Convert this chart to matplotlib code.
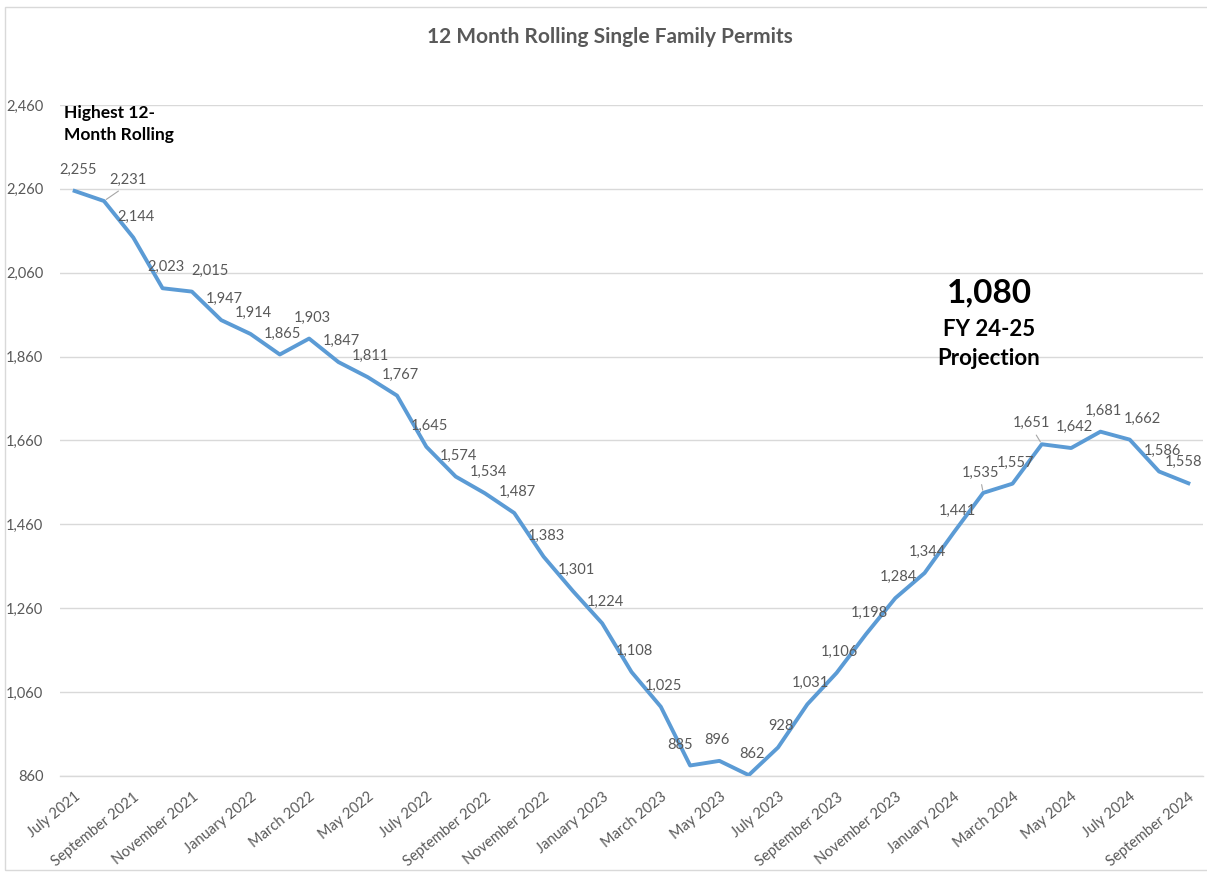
import matplotlib.pyplot as plt
from matplotlib.patches import Rectangle

months = ["January", "February", "March", "April", "May", "June", "July",
          "August", "September", "October", "November", "December"]
labels = []
for k in range(39):
    m = (6 + k) % 12
    y = 2021 + (6 + k) // 12
    labels.append(months[m] + " " + str(y))

permits = [2255, 2231, 2144, 2023, 2015, 1947, 1914, 1865, 1903, 1847, 1811, 1767,
           1645, 1574, 1534, 1487, 1383, 1301, 1224, 1108, 1025, 885, 896, 862,
           928, 1031, 1106, 1198, 1284, 1344, 1441, 1535, 1557, 1651, 1642, 1681,
           1662, 1586, 1558]

# label offsets in pixels (default is just above the point)
special = {1: (24, 21), 4: (18, 21), 21: (-10, 20), 22: (-2, 21), 31: (-3, 20),
           33: (-10, 21), 36: (13, 21), 38: (-5, 21)}
leaders = [1, 31, 33]

plt.rcParams['font.family'] = ['Lato', 'DejaVu Sans']
grey = '#595959'

fig = plt.figure(figsize=(12.07, 8.77), dpi=100)
ax = fig.add_axes([0.0497, 0.1152, 0.9470, 0.7651])

x = list(range(len(permits)))
ax.plot(x, permits, color='#5b9bd5', lw=2.8, solid_joinstyle='round', zorder=3)

for i, v in enumerate(permits):
    dx, dy = special.get(i, (3, 21))
    ax.annotate(f"{v:,}", (i, v), xytext=(dx, dy), textcoords='offset pixels',
                ha='center', va='center', fontsize=10.5, color=grey, zorder=4)
    if i in leaders:
        ax.annotate("", (i, v), xytext=(dx * 0.7, dy * 0.55), textcoords='offset pixels',
                    arrowprops=dict(arrowstyle='-', color='#a6a6a6', lw=0.8))

ax.set_xlim(-0.5, 38.5)
ax.set_ylim(860, 2460)
ax.set_yticks(range(860, 2461, 200))
ax.set_yticklabels([f"{t:,}" for t in range(860, 2461, 200)], fontsize=10.5, color=grey)
ax.set_xticks(x[::2])
ax.set_xticklabels(labels[::2], rotation=39, ha='right', va='top',
                   rotation_mode='anchor', fontsize=10.5, color=grey)
ax.tick_params(length=0, pad=10)
ax.tick_params(axis='y', pad=12)
ax.grid(axis='y', color='#d9d9d9', lw=1)
ax.axhline(860, color='#d9d9d9', lw=1, clip_on=False, zorder=1)
ax.set_axisbelow(True)
for s in ax.spines.values():
    s.set_visible(False)

fig.text(0.505, 0.958, "12 Month Rolling Single Family Permits", ha='center', va='center',
         fontsize=15, fontweight='bold', color=grey)
ax.text(-0.35, 2415, "Highest 12-\nMonth Rolling", ha='left', va='center',
        fontsize=12.5, fontweight='bold', color='black', linespacing=1.5)
ax.text(31.2, 2012, "1,080", ha='center', va='center', fontsize=24,
        fontweight='bold', color='black')
ax.text(31.2, 1890, "FY 24-25\nProjection", ha='center', va='center', fontsize=16,
        fontweight='bold', color='black', linespacing=1.45)

fig.patches.append(Rectangle((5 / 1207, 7 / 877), 1.0, 1 - 14 / 877,
                             transform=fig.transFigure, fill=False,
                             edgecolor='#d9d9d9', lw=1))

fig.savefig('out.png', dpi=100)
